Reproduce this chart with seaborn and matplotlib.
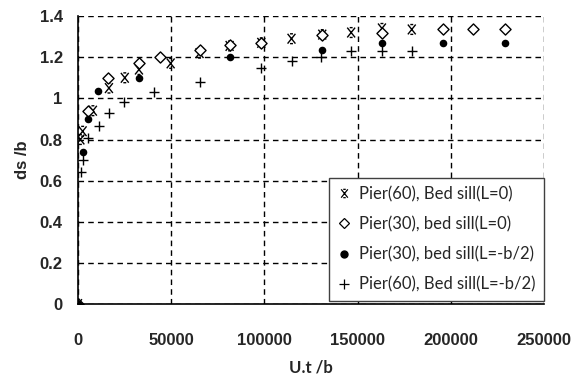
import numpy as np
import pandas as pd
import matplotlib
matplotlib.use("Agg")
import matplotlib.pyplot as plt
from matplotlib.path import Path
from matplotlib.lines import Line2D
import seaborn as sns

# Pier(60), Bed sill(L=0)
x_p60_l0 = [0, 1300, 2500, 8000, 16600, 25100, 32700, 49700, 65200, 81300, 98300, 114500, 131000, 146500, 163000, 179000]
y_p60_l0 = [0, 0.80, 0.84, 0.94, 1.05, 1.10, 1.14, 1.17, 1.22, 1.255, 1.27, 1.29, 1.31, 1.32, 1.34, 1.335]

# Pier(30), bed sill(L=0)
x_p30_l0 = [0, 5300, 16000, 32700, 43900, 65200, 81300, 98300, 131000, 163000, 196000, 212000, 229000]
y_p30_l0 = [0, 0.94, 1.10, 1.17, 1.20, 1.235, 1.26, 1.27, 1.31, 1.32, 1.335, 1.335, 1.335]

# Pier(30), bed sill(L=-b/2)
x_p30_lb = [0, 2700, 5300, 10700, 32700, 81300, 131000, 163000, 196000, 229000]
y_p30_lb = [0, 0.74, 0.90, 1.035, 1.10, 1.20, 1.235, 1.27, 1.27, 1.27]

# Pier(60), Bed sill(L=-b/2)
x_p60_lb = [0, 1600, 2700, 5300, 11200, 16600, 24600, 40600, 65200, 98400, 115000, 130500, 146500, 163000, 179000]
y_p60_lb = [0, 0.64, 0.70, 0.805, 0.865, 0.93, 0.98, 1.03, 1.08, 1.147, 1.18, 1.20, 1.23, 1.23, 1.23]

labels = ["Pier(60), Bed sill(L=0)", "Pier(30), bed sill(L=0)",
          "Pier(30), bed sill(L=-b/2)", "Pier(60), Bed sill(L=-b/2)"]
x_ticks = [0, 50000, 100000, 150000, 200000, 250000]
y_ticks = [0, 0.2, 0.4, 0.6, 0.8, 1.0, 1.2, 1.4]
y_ticklabels = ["0", "0.2", "0.4", "0.6", "0.8", "1", "1.2", "1.4"]

# asterisk-like marker: an X with short caps top and bottom
star = Path(
    [(-0.8, -1), (0.8, 1), (-0.8, 1), (0.8, -1),
     (-0.3, 1), (0.3, 1), (-0.3, -1), (0.3, -1)],
    [Path.MOVETO, Path.LINETO, Path.MOVETO, Path.LINETO,
     Path.MOVETO, Path.LINETO, Path.MOVETO, Path.LINETO])

sns.set_theme(style="white")
plt.rcParams["font.family"] = ["Liberation Sans", "DejaVu Sans"]

fig = plt.figure(figsize=(5.82, 3.74), dpi=100)
ax = fig.add_axes([0.134, 0.187, 0.801, 0.770])

frames = [
    (x_p60_l0, y_p60_l0, dict(marker=star, s=50, facecolor="none", edgecolor="black", linewidth=1.0)),
    (x_p30_l0, y_p30_l0, dict(marker="D", s=32, facecolor="white", edgecolor="black", linewidth=1.0)),
    (x_p30_lb, y_p30_lb, dict(marker="o", s=30, color="black", edgecolor="black", linewidth=0)),
    (x_p60_lb, y_p60_lb, dict(marker="+", s=55, color="black", linewidth=1.0)),
]
for (xs, ys, kw), lab in zip(frames, labels):
    df = pd.DataFrame({"x": xs, "y": ys})
    sns.scatterplot(data=df, x="x", y="y", ax=ax, legend=False, zorder=3, **kw)

ax.set_xlim(0, 250000)
ax.set_ylim(0, 1.4)
ax.set_xticks(x_ticks)
ax.set_xticklabels([str(t) for t in x_ticks], fontsize=12, fontweight="bold")
ax.set_yticks(y_ticks)
ax.set_yticklabels(y_ticklabels, fontsize=12, fontweight="bold")
ax.tick_params(axis="x", length=0, pad=21)
ax.tick_params(axis="y", length=0, pad=11)
ax.grid(True, color="black", linestyle=(0, (4, 3)), linewidth=1.0)
ax.set_axisbelow(True)
for side in ["top", "right"]:
    ax.spines[side].set_visible(False)
for side in ["left", "bottom"]:
    ax.spines[side].set_color("black")
    ax.spines[side].set_linewidth(1.2)
    ax.spines[side].set_zorder(4)

ax.set_xlabel("U.t /b", fontsize=12, fontweight="bold", family=["Lato", "DejaVu Sans"], labelpad=8)
ax.set_ylabel("ds /b", fontsize=12, fontweight="bold", labelpad=7)

handles = [
    Line2D([], [], linestyle="none", marker=star, markersize=6, color="black", markeredgewidth=0.9),
    Line2D([], [], linestyle="none", marker="D", markersize=5, markerfacecolor="white", markeredgecolor="black", markeredgewidth=0.9),
    Line2D([], [], linestyle="none", marker="o", markersize=5, color="black"),
    Line2D([], [], linestyle="none", marker="+", markersize=7, color="black", markeredgewidth=0.9),
]
leg = ax.legend(handles, labels, loc="lower right", bbox_to_anchor=(1.0, 0.01),
                prop={"family": ["Lato", "DejaVu Sans"], "size": 12},
                frameon=True, fancybox=False, framealpha=1, edgecolor="#404040",
                handlelength=0.8, handletextpad=0.5, labelspacing=0.85,
                borderpad=0.5, borderaxespad=0)
leg.get_frame().set_linewidth(1.0)
leg.set_zorder(5)

fig.savefig("out.png", dpi=100)
